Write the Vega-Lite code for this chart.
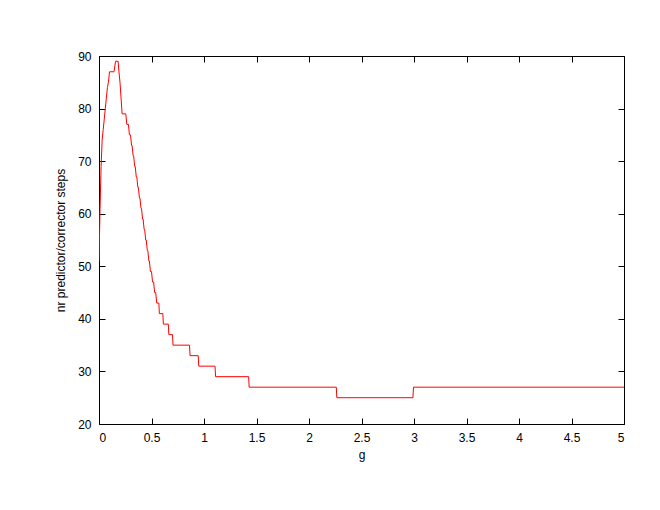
{
  "$schema": "https://vega.github.io/schema/vega-lite/v6.json",
  "width": 525,
  "height": 368,
  "autosize": {"type": "none"},
  "padding": {"left": 99, "top": 56, "right": 36, "bottom": 86},
  "background": "white",
  "config": {
    "view": {"stroke": "black", "strokeWidth": 1},
    "font": "Liberation Sans",
    "axis": {
      "grid": false,
      "domain": false,
      "tickColor": "black",
      "tickSize": -6,
      "tickWidth": 1,
      "labelFont": "Liberation Sans",
      "labelFontSize": 12,
      "labelColor": "black",
      "titleFont": "Liberation Sans",
      "titleFontSize": 12,
      "titleFontWeight": "normal",
      "titleColor": "black"
    }
  },
  "data": {
    "values": [
      {"g": 0, "steps": 51}, {"g": 0.01, "steps": 61}, {"g": 0.02, "steps": 69}, {"g": 0.03, "steps": 74},
      {"g": 0.04, "steps": 76}, {"g": 0.05, "steps": 78}, {"g": 0.06, "steps": 80}, {"g": 0.07, "steps": 82},
      {"g": 0.08, "steps": 84}, {"g": 0.09, "steps": 85}, {"g": 0.1, "steps": 87}, {"g": 0.143, "steps": 87},
      {"g": 0.158, "steps": 89}, {"g": 0.182, "steps": 89}, {"g": 0.19, "steps": 87}, {"g": 0.2, "steps": 85},
      {"g": 0.21, "steps": 82}, {"g": 0.22, "steps": 79}, {"g": 0.255, "steps": 79}, {"g": 0.265, "steps": 77},
      {"g": 0.28, "steps": 77}, {"g": 0.29, "steps": 75}, {"g": 0.3, "steps": 75}, {"g": 0.31, "steps": 73},
      {"g": 0.315, "steps": 73}, {"g": 0.325, "steps": 71}, {"g": 0.33, "steps": 71}, {"g": 0.34, "steps": 69},
      {"g": 0.345, "steps": 69}, {"g": 0.355, "steps": 67}, {"g": 0.36, "steps": 67}, {"g": 0.37, "steps": 65},
      {"g": 0.375, "steps": 65}, {"g": 0.385, "steps": 63}, {"g": 0.39, "steps": 63}, {"g": 0.4, "steps": 61},
      {"g": 0.405, "steps": 61}, {"g": 0.415, "steps": 59}, {"g": 0.42, "steps": 59}, {"g": 0.43, "steps": 57},
      {"g": 0.435, "steps": 57}, {"g": 0.445, "steps": 55}, {"g": 0.45, "steps": 55}, {"g": 0.46, "steps": 53},
      {"g": 0.465, "steps": 53}, {"g": 0.475, "steps": 51}, {"g": 0.48, "steps": 51}, {"g": 0.49, "steps": 49},
      {"g": 0.5, "steps": 49}, {"g": 0.51, "steps": 47}, {"g": 0.52, "steps": 47}, {"g": 0.53, "steps": 45},
      {"g": 0.54, "steps": 45}, {"g": 0.55, "steps": 43}, {"g": 0.57, "steps": 43}, {"g": 0.575, "steps": 41},
      {"g": 0.608, "steps": 41}, {"g": 0.613, "steps": 39}, {"g": 0.66, "steps": 39}, {"g": 0.665, "steps": 37},
      {"g": 0.7, "steps": 37}, {"g": 0.705, "steps": 35}, {"g": 0.862, "steps": 35}, {"g": 0.867, "steps": 33},
      {"g": 0.945, "steps": 33}, {"g": 0.95, "steps": 31}, {"g": 1.105, "steps": 31}, {"g": 1.11, "steps": 29},
      {"g": 1.425, "steps": 29}, {"g": 1.43, "steps": 27}, {"g": 2.26, "steps": 27}, {"g": 2.265, "steps": 25},
      {"g": 2.99, "steps": 25}, {"g": 2.995, "steps": 27}, {"g": 5, "steps": 27}
    ]
  },
  "resolve": {"axis": {"x": "independent", "y": "independent"}},
  "layer": [
    {
      "mark": {"type": "line", "color": "#ff0000", "strokeWidth": 1, "clip": true},
      "encoding": {
        "x": {
          "field": "g", "type": "quantitative",
          "scale": {"domain": [0, 5], "nice": false, "zero": false},
          "axis": {"orient": "bottom", "values": [0, 0.5, 1, 1.5, 2, 2.5, 3, 3.5, 4, 4.5, 5], "format": "~g", "title": "g", "labelPadding": 14, "titlePadding": 6}
        },
        "y": {
          "field": "steps", "type": "quantitative",
          "scale": {"domain": [20, 90], "nice": false, "zero": false},
          "axis": {"orient": "left", "values": [20, 30, 40, 50, 60, 70, 80, 90], "format": "d", "title": "nr predictor/corrector steps", "labelPadding": 14, "titlePadding": 10}
        }
      }
    },
    {
      "mark": {"type": "line", "opacity": 0},
      "encoding": {
        "x": {
          "field": "g", "type": "quantitative",
          "axis": {"orient": "top", "values": [0, 0.5, 1, 1.5, 2, 2.5, 3, 3.5, 4, 4.5, 5], "labels": false, "title": null}
        },
        "y": {
          "field": "steps", "type": "quantitative",
          "axis": {"orient": "right", "values": [20, 30, 40, 50, 60, 70, 80, 90], "labels": false, "title": null}
        }
      }
    }
  ]
}
